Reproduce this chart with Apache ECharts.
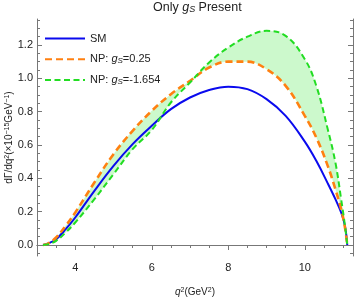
<!DOCTYPE html>
<html><head><meta charset="utf-8">
<script src="https://cdn.jsdelivr.net/npm/echarts@6/dist/echarts.min.js"></script>
<style>html,body{margin:0;padding:0;background:#fff}#c{width:354px;height:300px}</style>
</head><body><div id="c"></div>
<script>
// q^2 sample points (GeV^2)
const q2   = [3.157, 3.3, 3.5, 3.75, 4.0, 4.5, 5.0, 5.5, 6.0, 6.5, 7.0, 7.5, 8.0, 8.5, 9.0, 9.5, 10.0, 10.3, 10.6, 10.8, 10.95, 11.05, 11.11];
// SM
const sm   = [0, 0.01, 0.035, 0.095, 0.165, 0.325, 0.475, 0.605, 0.715, 0.815, 0.885, 0.93, 0.95, 0.935, 0.875, 0.775, 0.62, 0.505, 0.37, 0.275, 0.195, 0.115, 0];
// NP: gS = 0.25
const npA  = [0, 0.01, 0.045, 0.115, 0.195, 0.375, 0.545, 0.685, 0.805, 0.905, 0.985, 1.065, 1.10, 1.10, 1.055, 0.955, 0.775, 0.645, 0.475, 0.335, 0.215, 0.105, 0];
// NP: gS = -1.654
const npB  = [0, 0.005, 0.025, 0.075, 0.135, 0.275, 0.425, 0.575, 0.69, 0.855, 0.975, 1.095, 1.185, 1.25, 1.285, 1.255, 1.115, 0.955, 0.695, 0.495, 0.275, 0.115, 0];

const xMajor = [4, 6, 8, 10];
const xMinor = [3.5, 4.5, 5, 5.5, 6.5, 7, 7.5, 8.5, 9, 9.5, 10.5, 11];
const yMajor = [0, 0.2, 0.4, 0.6, 0.8, 1.0, 1.2];
const yMinor = [-0.05, 0.05, 0.1, 0.15, 0.25, 0.3, 0.35, 0.45, 0.5, 0.55, 0.65, 0.7, 0.75, 0.85, 0.9, 0.95, 1.05, 1.1, 1.15, 1.25, 1.3, 1.35];

const X_MIN = 3.0, X_MAX = 11.26, Y_MIN = -0.066, Y_MAX = 1.356;
const FONT = 'Liberation Sans';
const AX = '#777';

const chart = echarts.init(document.getElementById('c'), null, {renderer: 'canvas'});

function xAxisDef(grid, pos, ticks, len, labels, line) {
  return {
    type: 'value', gridIndex: grid, position: pos, min: X_MIN, max: X_MAX,
    splitLine: {show: false},
    axisLine: {show: line, lineStyle: {color: AX, width: 1}},
    axisTick: {show: true, inside: true, length: len, customValues: ticks, lineStyle: {color: AX}},
    axisLabel: labels ? {show: true, customValues: ticks, color: '#222', fontFamily: FONT, fontSize: 11, margin: 6,
      formatter: v => String(v)} : {show: false}
  };
}
function yAxisDef(grid, pos, ticks, len, labels, line) {
  return {
    type: 'value', gridIndex: grid, position: pos, min: Y_MIN, max: Y_MAX,
    splitLine: {show: false},
    axisLine: {show: line, lineStyle: {color: AX, width: 1}},
    axisTick: {show: true, inside: true, length: len, customValues: ticks, lineStyle: {color: AX}},
    axisLabel: labels ? {show: true, customValues: ticks, color: '#222', fontFamily: FONT, fontSize: 11, margin: 4,
      formatter: v => v.toFixed(1)} : {show: false}
  };
}

const gridRect = {left: 37, right: 1, top: 19, bottom: 44, containLabel: false, outerBoundsMode: 'none'};

const xa0 = xAxisDef(0, 'bottom', xMajor, 5, true, true);
xa0.name = '{i|q}{sup|2}(GeV{sup|2})';
xa0.nameLocation = 'middle';
xa0.nameGap = 31;
xa0.nameTextStyle = {fontFamily: FONT, fontSize: 10, color: '#222',
  rich: {i: {fontStyle: 'italic', fontFamily: FONT, fontSize: 10, color: '#222'},
         sup: {fontSize: 7, verticalAlign: 'top', fontFamily: FONT, color: '#222', padding: [0,0,4,0]}}};

const ya0 = yAxisDef(0, 'left', yMajor, 5, true, true);
ya0.name = 'dΓ/dq{sup|2}(×10{sup|−15}GeV{sup|−1})';
ya0.nameLocation = 'middle';
ya0.nameRotate = 90;
ya0.nameGap = 22;
ya0.nameMoveOverlap = false;
ya0.nameTextStyle = {fontFamily: FONT, fontSize: 10, color: '#222',
  rich: {sup: {fontSize: 7, verticalAlign: 'top', fontFamily: FONT, color: '#222', padding: [0,0,4,0]}}};

const legendNames = {
  'SM': 'SM',
  'NP1': 'NP: {i|g}{sub|S}=0.25',
  'NP2': 'NP: {i|g}{sub|S}=-1.654'
};

const option = {
  animation: false,
  backgroundColor: '#fff',
  title: {
    text: 'Only {i|g}{sub|S} Present', left: 153, top: 1, padding: 0,
    textStyle: {fontFamily: FONT, fontSize: 12.5, fontWeight: 'normal', color: '#222',
      rich: {i: {fontStyle: 'italic', fontFamily: FONT, fontSize: 12.5, color: '#222'},
             sub: {fontSize: 9, fontStyle: 'italic', verticalAlign: 'bottom', fontFamily: FONT, color: '#222'}}}
  },
  grid: [Object.assign({}, gridRect), Object.assign({}, gridRect)],
  xAxis: [
    xa0,
    xAxisDef(0, 'top', xMajor, 5, false, true),
    xAxisDef(1, 'bottom', xMinor, 3, false, false),
    xAxisDef(1, 'top', xMinor, 3, false, false)
  ],
  yAxis: [
    ya0,
    yAxisDef(0, 'right', yMajor, 5, false, true),
    yAxisDef(1, 'left', yMinor, 3, false, false),
    yAxisDef(1, 'right', yMinor, 3, false, false)
  ],
  legend: {
    orient: 'vertical', left: 44, top: 33, padding: 0,
    itemWidth: 40, itemHeight: 14, itemGap: 9.5,
    itemStyle: {opacity: 0},
    data: ['SM', 'NP1', 'NP2'],
    formatter: n => legendNames[n],
    textStyle: {fontFamily: FONT, fontSize: 11, color: '#222',
      rich: {i: {fontStyle: 'italic', fontFamily: FONT, fontSize: 11, color: '#222'},
             sub: {fontSize: 8, fontStyle: 'italic', verticalAlign: 'bottom', fontFamily: FONT, color: '#222'}}}
  },
  series: [
    {
      name: 'bandUpper', type: 'line', smooth: 0.4, symbol: 'none', z: 1,
      xAxisIndex: 0, yAxisIndex: 0,
      lineStyle: {opacity: 0}, silent: true,
      areaStyle: {color: '#ccf9cc', opacity: 1},
      data: q2.map((x, i) => [x, Math.max(npA[i], npB[i])])
    },
    {
      name: 'bandLower', type: 'line', smooth: 0.4, symbol: 'none', z: 2,
      xAxisIndex: 0, yAxisIndex: 0,
      lineStyle: {opacity: 0}, silent: true,
      areaStyle: {color: '#ffffff', opacity: 1},
      data: q2.map((x, i) => [x, Math.min(npA[i], npB[i])])
    },
    {
      name: 'SM', type: 'line', smooth: 0.4, symbol: 'none', z: 3,
      xAxisIndex: 0, yAxisIndex: 0,
      itemStyle: {color: '#0a0aee'},
      lineStyle: {color: '#0a0aee', width: 2},
      data: q2.map((x, i) => [x, sm[i]])
    },
    {
      name: 'NP1', type: 'line', smooth: 0.4, symbol: 'none', z: 4,
      xAxisIndex: 0, yAxisIndex: 0,
      itemStyle: {color: '#ff8010'},
      lineStyle: {color: '#ff8010', width: 2.6, type: [7, 4]},
      data: q2.map((x, i) => [x, npA[i]])
    },
    {
      name: 'NP2', type: 'line', smooth: 0.4, symbol: 'none', z: 5,
      xAxisIndex: 0, yAxisIndex: 0,
      itemStyle: {color: '#22dd22'},
      lineStyle: {color: '#22dd22', width: 2, type: [6, 3.5]},
      data: q2.map((x, i) => [x, npB[i]])
    }
  ]
};
chart.setOption(option);
</script>
</body></html>
